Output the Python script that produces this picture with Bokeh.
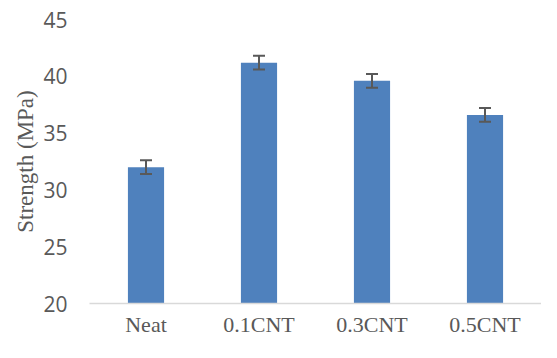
import math
from bokeh.plotting import figure
from bokeh.models import ColumnDataSource, Whisker, TeeHead, Range1d, FactorRange
from bokeh.embed import file_html
from bokeh.resources import INLINE

categories = ["Neat", "0.1CNT", "0.3CNT", "0.5CNT"]
strength = [32.0, 41.2, 39.6, 36.6]
error = [0.6, 0.6, 0.6, 0.6]
y_ticks = [20, 25, 30, 35, 40, 45]
y_title = "Strength (MPa)"

src = ColumnDataSource(dict(
    cat=categories,
    val=strength,
    upper=[v + e for v, e in zip(strength, error)],
    lower=[v - e for v, e in zip(strength, error)],
))

p = figure(x_range=FactorRange(*categories, range_padding=0),
           y_range=Range1d(20, 45),
           frame_width=452, frame_height=284,
           min_border_left=89, min_border_right=0,
           min_border_top=19, min_border_bottom=39,
           output_backend="svg", toolbar_location=None)

p.outline_line_color = None
p.xgrid.grid_line_color = None
p.ygrid.grid_line_color = None

p.vbar(x="cat", top="val", bottom=20, width=0.32, source=src,
       fill_color="#4F81BD", line_color=None)

w = Whisker(base="cat", upper="upper", lower="lower", source=src,
            line_color="#595959", line_width=2, level="overlay",
            upper_head=TeeHead(size=12, line_color="#595959", line_width=2),
            lower_head=TeeHead(size=12, line_color="#595959", line_width=2))
p.add_layout(w)

p.yaxis.ticker = y_ticks
p.yaxis.axis_line_color = None
p.yaxis.major_tick_line_color = None
p.yaxis.minor_tick_line_color = None
p.yaxis.major_tick_out = 0
p.yaxis.minor_tick_out = 0
p.yaxis.major_label_standoff = 22
p.yaxis.major_label_text_font = "Open Sans"
p.yaxis.major_label_text_font_size = "21px"
p.yaxis.major_label_text_color = "#595959"
p.yaxis.axis_label = y_title
p.yaxis.axis_label_standoff = 2
p.yaxis.axis_label_text_font = "Liberation Serif"
p.yaxis.axis_label_text_font_style = "normal"
p.yaxis.axis_label_text_font_size = "23px"
p.yaxis.axis_label_text_color = "#595959"

p.xaxis.axis_line_color = "#D9D9D9"
p.xaxis.axis_line_width = 1.5
p.xaxis.major_tick_line_color = None
p.xaxis.minor_tick_line_color = None
p.xaxis.major_tick_out = 0
p.xaxis.major_label_standoff = 8
p.xaxis.major_label_text_font = "Liberation Serif"
p.xaxis.major_label_text_font_size = "22px"
p.xaxis.major_label_text_color = "#595959"

open("out.html", "w").write(file_html(p, INLINE))
